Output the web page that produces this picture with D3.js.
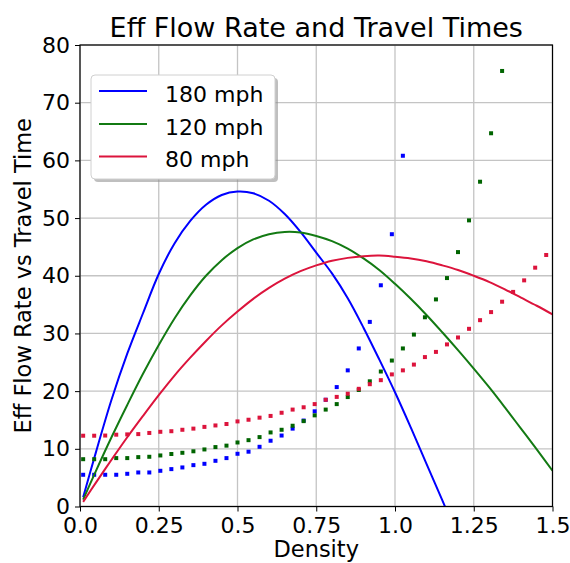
<!DOCTYPE html>
<html>
<head>
<meta charset="utf-8">
<script src="https://cdn.jsdelivr.net/npm/d3@7"></script>
<style>
  html, body { margin: 0; padding: 0; background: #fff; }
  svg { display: block; font-family: "DejaVu Sans", sans-serif; }
</style>
</head>
<body>
<svg id="chart" width="570" height="563"></svg>
<script>
// ---------------- data ----------------
const seriesNames = ["180 mph", "120 mph", "80 mph"];
const seriesColors = ["#0000ff", "#137a13", "#dc143c"];
const dotColors = ["#0000ff", "#006400", "#dc143c"];

const xTicks = [0.0, 0.25, 0.5, 0.75, 1.0, 1.25, 1.5];
const xTickLabels = ["0.0", "0.25", "0.5", "0.75", "1.0", "1.25", "1.5"];
const yTicks = [0, 10, 20, 30, 40, 50, 60, 70, 80];

// density samples for the flow-rate curves
const curveDensity = [0.01, 0.05, 0.10, 0.15, 0.20, 0.25, 0.30, 0.35, 0.40, 0.45,
  0.50, 0.55, 0.60, 0.65, 0.70, 0.75, 0.80, 0.85, 0.90, 0.95,
  1.00, 1.05, 1.10, 1.15, 1.20, 1.25, 1.30, 1.35, 1.40, 1.45, 1.50];

const flow180 = [1.6, 9.3, 18.5, 26.5, 33.5, 40.3, 45.6, 49.5, 52.3, 54.0,
  54.6, 54.3, 53.0, 50.7, 47.6, 44.0, 40.4, 36.1, 31.0, 25.5,
  19.8, 13.7, 7.4, 1.1, -5.3, null, null, null, null, null, null];
const flow120 = [1.2, 6.1, 12.0, 17.6, 23.0, 28.0, 32.6, 36.6, 40.0, 42.7,
  44.8, 46.3, 47.2, 47.6, 47.5, 46.9, 46.0, 44.7, 43.0, 41.0,
  38.6, 36.0, 33.2, 30.2, 27.1, 23.9, 20.6, 17.1, 13.5, 9.9, 6.2];
const flow80 = [0.8, 4.1, 8.1, 12.0, 15.7, 19.3, 22.7, 25.8, 28.7, 31.4,
  33.8, 36.0, 37.9, 39.5, 40.8, 41.8, 42.6, 43.1, 43.4, 43.5,
  43.3, 43.0, 42.5, 41.8, 41.0, 40.0, 38.9, 37.6, 36.2, 34.8, 33.3];

// density samples for the travel-time points
const dotDensity = [0.01, 0.045, 0.08, 0.115, 0.15, 0.185, 0.22, 0.255, 0.29, 0.325,
  0.36, 0.395, 0.43, 0.465, 0.5, 0.535, 0.57, 0.605, 0.64, 0.675,
  0.71, 0.745, 0.78, 0.815, 0.85, 0.885, 0.92, 0.955, 0.99, 1.025,
  1.06, 1.095, 1.13, 1.165, 1.2, 1.235, 1.27, 1.305, 1.34, 1.375,
  1.41, 1.445, 1.48];

const time180 = [5.5, 5.5, 5.5, 5.5, 5.67, 5.9, 5.9, 6.19, 6.48, 6.77,
  7.17, 7.4, 7.92, 8.39, 9.14, 9.5, 10.35, 11.4, 12.3, 13.5,
  14.9, 16.5, 18.5, 20.7, 23.6, 27.4, 32.0, 38.35, 47.2, 60.8];
const time120 = [8.2, 8.2, 8.2, 8.39, 8.39, 8.56, 8.62, 8.85, 9.1, 9.31,
  9.57, 9.89, 10.3, 10.55, 11.1, 11.5, 12.03, 12.84, 13.3, 14.0,
  14.8, 15.8, 16.8, 17.75, 18.97, 20.2, 21.7, 23.4, 25.3, 27.4,
  29.8, 32.8, 35.9, 39.6, 44.1, 49.6, 56.3, 64.7, 75.5];
const time80 = [12.27, 12.27, 12.3, 12.45, 12.5, 12.55, 12.75, 12.95, 13.05, 13.3,
  13.5, 13.8, 14.05, 14.3, 14.75, 15.04, 15.4, 15.7, 16.25, 16.8,
  17.2, 17.75, 18.5, 19.0, 19.55, 20.4, 21.2, 21.9, 22.9, 23.6,
  24.6, 25.9, 26.8, 28.1, 29.3, 30.8, 32.3, 33.7, 35.5, 37.2,
  39.2, 41.4, 43.6];

const flows = [flow180, flow120, flow80];
const times = [time180, time120, time80];

// ---------------- layout ----------------
(function () {
const svg = d3.select("#chart");
const pL = 80, pR = 552.5, pT = 45, pB = 506.5;
const x = d3.scaleLinear().domain([0, 1.5]).range([pL, pR]);
const y = d3.scaleLinear().domain([0, 80]).range([pB, pT]);

svg.append("defs").append("clipPath").attr("id", "clip")
  .append("rect").attr("x", pL).attr("y", pT)
  .attr("width", pR - pL).attr("height", pB - pT);

// grid
const grid = svg.append("g");
grid.selectAll(".vg").data(xTicks).enter().append("line")
  .attr("x1", d => x(d)).attr("x2", d => x(d))
  .attr("y1", pT).attr("y2", pB)
  .attr("stroke", "#c4c4c4").attr("stroke-width", 1.3);
grid.selectAll(".hg").data(yTicks).enter().append("line")
  .attr("y1", d => y(d)).attr("y2", d => y(d))
  .attr("x1", pL).attr("x2", pR)
  .attr("stroke", "#c4c4c4").attr("stroke-width", 1.3);

// axes
const xAxis = d3.axisBottom(x).tickValues(xTicks)
  .tickFormat((d, i) => xTickLabels[i]).tickSize(5).tickPadding(6);
const yAxis = d3.axisLeft(y).tickValues(yTicks).tickSize(5).tickPadding(5);

const gx = svg.append("g").attr("transform", `translate(0,${pB})`).call(xAxis);
const gy = svg.append("g").attr("transform", `translate(${pL},0)`).call(yAxis);
[gx, gy].forEach(g => {
  g.select(".domain").remove();
  g.selectAll(".tick line").attr("stroke", "#000").attr("stroke-width", 1);
  g.selectAll(".tick text").attr("fill", "#000")
    .style("font-family", "DejaVu Sans").style("font-size", "22px");
});

// series
const plot = svg.append("g").attr("clip-path", "url(#clip)");
const line = d3.line()
  .defined(d => d[1] !== null)
  .x(d => x(d[0])).y(d => y(d[1]))
  .curve(d3.curveCatmullRom.alpha(0.5));

for (let s = 0; s < 3; s++) {
  const pts = curveDensity.map((k, i) => [k, flows[s][i]]);
  plot.append("path").datum(pts)
    .attr("d", line).attr("fill", "none")
    .attr("stroke", seriesColors[s]).attr("stroke-width", 2);
  const dots = times[s].map((t, i) => [dotDensity[i], t]);
  plot.selectAll(null).data(dots).enter().append("rect")
    .attr("x", d => x(d[0]) - 2).attr("y", d => y(d[1]) - 2)
    .attr("width", 4).attr("height", 4)
    .attr("fill", dotColors[s]);
}

// spines
svg.append("rect").attr("x", pL).attr("y", pT)
  .attr("width", pR - pL).attr("height", pB - pT)
  .attr("fill", "none").attr("stroke", "#000").attr("stroke-width", 1.2);

// title & labels
svg.append("text").attr("x", (pL + pR) / 2).attr("y", 37)
  .attr("text-anchor", "middle").style("font-size", "27px").attr("fill", "#000")
  .text("Eff Flow Rate and Travel Times");
svg.append("text").attr("x", (pL + pR) / 2).attr("y", 557)
  .attr("text-anchor", "middle").style("font-size", "22.5px").attr("fill", "#000")
  .text("Density");
svg.append("text")
  .attr("transform", `translate(31,${(pT + pB) / 2}) rotate(-90)`)
  .attr("text-anchor", "middle").style("font-size", "22.5px").attr("fill", "#000")
  .text("Eff Flow Rate vs Travel Time");

// legend
const lg = svg.append("g");
const lx = 91, ly = 75, lw = 184, lh = 104;
lg.append("rect").attr("x", lx + 3).attr("y", ly + 3).attr("width", lw).attr("height", lh)
  .attr("rx", 4).attr("fill", "#8a8a8a").attr("opacity", 0.55);
lg.append("rect").attr("x", lx).attr("y", ly).attr("width", lw).attr("height", lh)
  .attr("rx", 4).attr("fill", "#fff").attr("stroke", "#d0d0d0").attr("stroke-width", 1);
const rowY = [91, 124, 156.5];
seriesNames.forEach((name, i) => {
  lg.append("line").attr("x1", 99).attr("x2", 147)
    .attr("y1", rowY[i]).attr("y2", rowY[i])
    .attr("stroke", seriesColors[i]).attr("stroke-width", 2);
  lg.append("text").attr("x", 165).attr("y", rowY[i] + 10.5)
    .style("font-size", "22px").attr("fill", "#000").text(name);
});
})();
</script>
</body>
</html>
